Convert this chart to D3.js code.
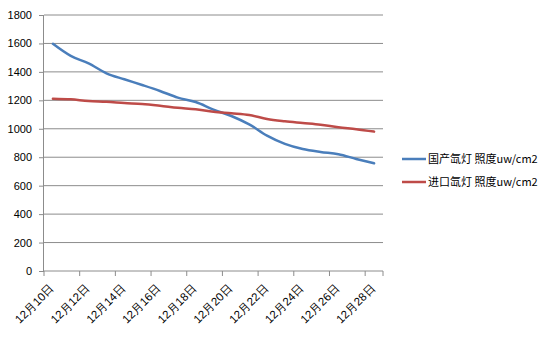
<!DOCTYPE html>
<html><head><meta charset="utf-8">
<script src="https://cdn.jsdelivr.net/npm/d3@7"></script>
<style>body{margin:0;background:#fff}svg{display:block}</style>
</head><body><svg id="c" width="550" height="360"></svg>
<script>
const categories = ["12月10日","12月11日","12月12日","12月13日","12月14日","12月15日","12月16日","12月17日","12月18日","12月19日","12月20日","12月21日","12月22日","12月23日","12月24日","12月25日","12月26日","12月27日","12月28日"];
const domestic = [1597,1512,1460,1390,1348,1308,1266,1219,1188,1135,1090,1031,952,894,858,837,821,788,757];
const imported = [1212,1207,1195,1190,1181,1174,1162,1148,1137,1120,1109,1097,1069,1053,1041,1029,1011,997,980];
const seriesNames = ["国产氙灯 照度uw/cm2","进口氙灯 照度uw/cm2"];
const yTicks = [0,200,400,600,800,1000,1200,1400,1600,1800];

const svg = d3.select("#c");
const L=44, R=383, T=15, B=271;
const font = "'Liberation Sans', Arial, sans-serif";
const x = d3.scaleBand().domain(categories).range([L,R]);
const y = d3.scaleLinear().domain([0,1800]).range([B,T]);

// gridlines
svg.append("g").selectAll("line").data(yTicks.filter(d=>d>0)).join("line")
  .attr("x1",L).attr("x2",R).attr("y1",d=>y(d)).attr("y2",d=>y(d))
  .attr("stroke","#8c8c8c").attr("stroke-width",1);

// y axis
const ya = svg.append("g").attr("transform",`translate(${L},0)`)
  .call(d3.axisLeft(y).tickValues(yTicks).tickFormat(d3.format("d")).tickSize(5).tickPadding(7));
ya.select(".domain").attr("stroke","#8c8c8c").attr("d",`M-0.5,${B}V${T}`);
ya.selectAll(".tick line").attr("stroke","#8c8c8c");
ya.selectAll("text").attr("font-family",font).attr("font-size",11).attr("fill","#000");

// x axis
const xa = svg.append("g").attr("transform",`translate(0,${B})`);
xa.append("line").attr("x1",L).attr("x2",R).attr("y1",0).attr("y2",0).attr("stroke","#8c8c8c");
const tickIdx = d3.range(0, categories.length+1, 2).concat([categories.length]);
xa.selectAll("line.t").data(tickIdx).join("line").attr("class","t")
  .attr("x1",i=>L+i*x.step()).attr("x2",i=>L+i*x.step()).attr("y1",0).attr("y2",5)
  .attr("stroke","#8c8c8c");
xa.selectAll("text").data(categories.filter((d,i)=>i%2===0)).join("text")
  .attr("transform",d=>`translate(${x(d)+x.bandwidth()/2+2},18) rotate(-45)`)
  .attr("text-anchor","end").attr("font-family",font).attr("font-size",11.5)
  .attr("fill","#000").text(d=>d);

// lines
const colors = ["#4a7ebb","#be4b48"];
const line = d3.line().x((d,i)=>x(categories[i])+x.bandwidth()/2).y(d=>y(d)).curve(d3.curveMonotoneX);
[domestic, imported].forEach((s,k)=>{
  svg.append("path").datum(s).attr("d",line).attr("fill","none")
    .attr("stroke",colors[k]).attr("stroke-width",2.5).attr("stroke-linecap","round");
});

// legend
const lg = svg.append("g");
seriesNames.forEach((n,k)=>{
  const yy = 159 + k*23;
  lg.append("line").attr("x1",402).attr("x2",426).attr("y1",yy).attr("y2",yy)
    .attr("stroke",colors[k]).attr("stroke-width",2.5);
  lg.append("text").attr("x",428).attr("y",yy+4).attr("font-family","'Noto Sans CJK SC', sans-serif")
    .attr("font-size",11).attr("fill","#000").text(n);
});
</script></body></html>
